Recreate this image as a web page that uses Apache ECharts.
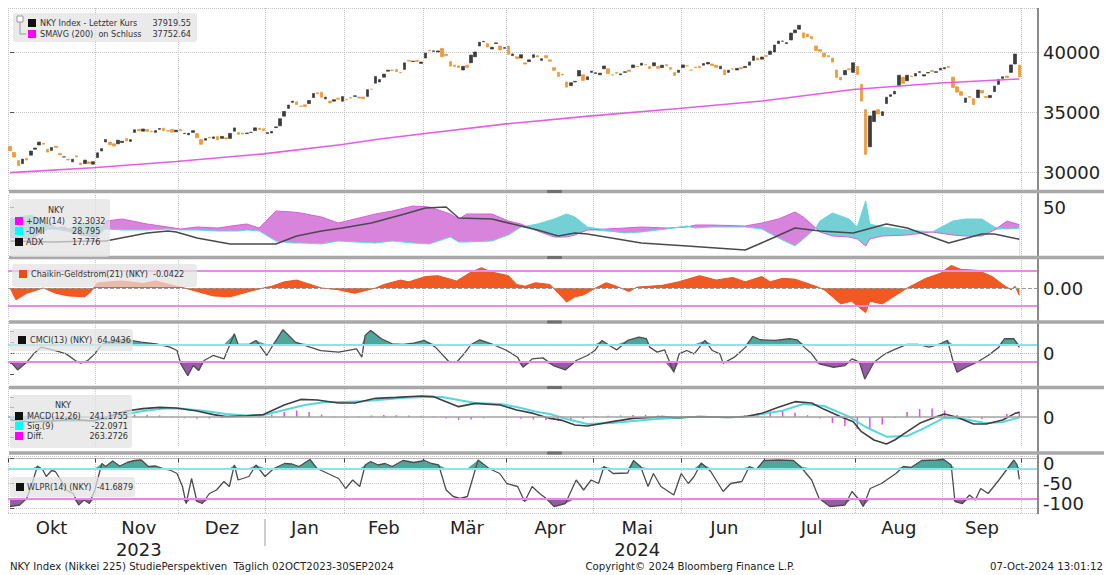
<!DOCTYPE html>
<html>
<head>
<meta charset="utf-8">
<title>NKY Index - StudiePerspektiven</title>
<script src="https://cdn.jsdelivr.net/npm/echarts@6.0.0/dist/echarts.min.js"></script>
<style>
html, body { margin: 0; padding: 0; background: #fff; }
#chart { width: 1112px; height: 575px; }
</style>
</head>
<body>
<div id="chart"></div>
<script>
// Handelstage je Monat (02.10.2023 - 30.09.2024)
const monthNames = ['Okt', 'Nov', 'Dez', 'Jan', 'Feb', 'Mär', 'Apr', 'Mai', 'Jun', 'Jul', 'Aug', 'Sep'];
const tradingDays = [21, 20, 21, 19, 19, 20, 21, 21, 20, 22, 21, 19];
const yearOf = { Nov: '2023', Mai: '2024' };
const padDays = 4;

// Kerzen: Eröffnung / Schluss je Handelstag
const openPx = [
  32140,31630,30950,30700,31150,31400,31900,32250,32400,31900,31800,32150,31550,31250,31050,30850,31350,30750,30700,30850,30650,
  31200,31750,32500,32500,32350,32350,32450,32800,32550,33300,33550,33400,33550,33400,33300,33550,33650,33450,33550,33350,
  33550,33200,33100,33300,33200,32700,32650,32900,32800,32950,32800,32850,32800,33400,33300,33250,33200,33300,33450,33650,33600,
  33200,33250,33700,33850,34650,35300,35800,35850,35500,35600,35700,36200,36600,36650,36100,35900,35900,36150,35900,
  36050,36200,36300,36250,36250,36300,36900,37400,37500,37900,38400,38500,38550,38300,38550,39300,39200,39300,39050,
  39500,40150,40050,40000,40300,39800,39200,38900,38850,38500,38900,39100,39600,40500,40850,40700,40250,40700,40500,40300,
  40500,39700,39600,39500,39100,39200,39550,39700,39300,39700,39350,38700,38300,38150,37500,37200,37500,38000,38100,37700,38300,
  38200,38100,38600,38600,38100,38300,38100,38300,38500,38700,38800,38900,38950,38800,38850,38800,38700,38950,38700,38300,38300,
  38700,38850,38500,38750,38800,38900,39000,39000,38900,38600,38500,38300,38600,38500,38700,38700,38900,39300,39500,39400,
  39700,39800,40000,40700,40900,40700,41000,41600,41900,41600,41500,41300,40500,40200,39900,39700,39500,38500,37900,38100,38600,38300,
  38800,37300,35200,32100,34200,35200,34700,35700,36300,36500,37200,37900,37600,38000,38000,38300,38000,38250,38450,38300,38500,
  38600,38800,37900,37100,36700,35800,36300,36100,36200,36800,36300,36200,36700,37300,37800,38000,38300,39000,38900
];
const closePx = [
  31759,31237,30526,31075,30994,31746,32003,32494,32315,31659,32040,32042,31430,31259,30999,31062,31269,30601,30991,30697,30859,
  31601,31950,32708,32272,32166,32646,32568,32586,32696,33519,33424,33585,33389,33354,33452,33625,33447,33408,33321,33486,
  33431,33231,33231,33445,32858,32307,32791,32843,32926,32686,32970,32758,33219,33675,33140,33169,33254,33305,33681,33540,33464,
  33288,33377,33763,34441,35049,35577,35901,35619,35477,35466,35963,36546,36517,36226,36236,35751,36026,36065,36286,
  36011,36158,36354,36160,36119,36863,36897,37963,37703,38157,38487,38470,38363,38262,39098,39233,39239,39208,39166,
  39910,40109,40097,40090,39598,39688,38820,38797,38695,38807,38707,39740,40003,40815,40888,40414,40398,40762,40168,40369,
  39803,39838,39451,39773,38992,39347,39773,39581,39442,39523,39232,38471,37961,38079,37068,37438,37552,38460,37628,37934,38405,
  38274,38236,38835,38202,38073,38229,38179,38356,38385,38920,38787,39069,38946,38617,39103,38646,38900,38855,38556,38054,38487,
  38923,38837,38490,38703,38683,39038,39134,38876,38720,38814,38102,38482,38570,38633,38596,38804,39173,39667,39341,39583,
  39631,40074,40580,40913,40912,40780,41580,41831,42224,41190,41275,41097,40126,40063,39599,39594,39154,37869,37667,38468,38526,39101,
  38126,35909,31458,34675,35089,34831,35025,36232,36442,36726,38062,37388,38063,37951,38211,38364,38110,38288,38371,38362,38647,
  38700,38686,37047,36657,36391,36159,36215,35619,36833,36581,36203,36380,37155,37723,37940,37870,38925,39830,37919.55
];

// SMAVG(200): [Handelstag, Wert]
const smaPts = [[0,29950],[20,30360],[40,30880],[61,31510],[80,32290],[89,32750],[99,33170],[119,33990],
  [140,34680],[161,35290],[181,35920],[203,36870],[224,37420],[243,37752.64]];

// DMI
const dmiDay = [0,5,9,13,17,21,23,27,33,38,41,45,50,55,57,60,64,68,70,75,79,83,88,92,97,101,106,108,110,116,
  120,123,127,131,134,136,139,148,152,158,163,165,169,177,181,185,189,191,194,195,198,202,204,206,207,210,216,222,227,230,234,237,240,243];
const dmiPlus = [20,18,28,30,22,20,36,38,33,30,28,30,29,32,33,29,46,45,44,40,34,38,43,46,51,50,43,38,43,43,
  36,33,26,20,20,22,27,29,30,29,30,32,32,31,34,38,45,40,29,25,21,20,18,11,18,21,22,25,22,21,21,27,36,32.3];
const dmiMinus = [38,42,34,26,33,34,28,27,27,28,27,27,26,26,27,26,16,14,14,13,16,15,14,16,14,13,20,15,15,16,
  22,30,33,38,43,40,30,24,25,28,31,29,30,30,28,19,11,18,29,36,44,38,30,56,33,30,27,25,36,38,38,30,28,28.8];
const adxPts = [[0,16],[10,15],[20,16],[23,16],[33,24],[38,26],[40,25],[45,19],[53,13],[57,13],[64,13],[69,21],
  [75,26],[80,29],[87,34],[95,43],[100,49],[105,50],[108,39],[116,38],[121,33],[127,27],[132,21],[136,24],[139,23],
  [152,14],[163,11],[177,7],[182,16],[189,29],[195,26],[203,24],[211,33],[216,29],[226,14],[234,23],[237,23],[243,17.776]];

// Chaikin-Geldstrom(21)
const chaikinPts = [[0,0],[1.4,-0.067],[4,-0.03],[8,0],[11,-0.03],[14,-0.045],[18,-0.05],[19.5,-0.02],[21,0.028],
  [23,0.033],[27,0.04],[32,0.025],[35,0.04],[40,0.01],[42,0],[45,-0.02],[49,-0.045],[53,-0.05],[57.5,-0.02],[61,0],
  [63,0.01],[66,0.035],[69,0.045],[71,0.03],[75,0],[79,-0.01],[83,-0.03],[88,0],[90,0.02],[94,0.045],[96,0.035],
  [100,0.065],[103,0.07],[107.5,0.04],[111,0.09],[113.5,0.115],[116,0.09],[120,0.07],[122,0.02],[124,0.01],
  [126.5,0.03],[130,0.02],[132,-0.03],[134,-0.08],[136,-0.05],[138,-0.04],[141,0],[143.5,0.03],[146,0.01],
  [149,-0.02],[151,0.005],[157,0.015],[161,0.035],[166,0.07],[170,0.045],[174,0.06],[177,0.035],[181,0.065],
  [183,0.035],[186,0.055],[189,0.05],[194,0.01],[196,-0.01],[198,-0.05],[200,-0.09],[202.6,-0.075],[206,-0.14],
  [207,-0.075],[210,-0.09],[214,-0.03],[216,0],[220.5,0.055],[224,0.083],[226.6,0.128],[229,0.105],[233,0.1],
  [236.5,0.065],[239,0.02],[241,-0.01],[242,0.01],[243,-0.0422]];

// CMCI(13)
const cmciPts = [[0,-96],[1.8,-198],[4,-108],[5.7,-10],[7.5,69],[9.2,49],[10.9,29],[13.5,-10],[15.7,-88],[17,-120],
  [18.7,-88],[20.4,-10],[22.1,100],[24.7,147],[28.2,155],[31.6,127],[35.1,108],[38.5,69],[40.2,29],[41.1,-127],
  [42.8,-265],[44.1,-147],[45.4,-206],[46.7,-88],[48.9,-29],[51.5,-69],[54,225],[54.9,100],[57.5,100],[59.2,147],
  [61.8,-29],[63.5,108],[65.7,273],[68.7,127],[72.2,69],[74.8,29],[79.1,10],[83.4,49],[84.7,-49],[85.5,206],
  [86.8,265],[89.4,167],[92,108],[94.6,100],[97.2,116],[99.8,147],[102.4,69],[105.8,-108],[107.5,-108],[109.3,-10],
  [111,100],[113.1,155],[116.2,100],[119.6,29],[122.2,-49],[123.5,-167],[125.7,-69],[128.3,-57],[130.8,-147],
  [133.7,-198],[136.3,-88],[139,-29],[140.8,29],[142.5,147],[144.3,88],[146.1,37],[148.7,147],[151.4,186],
  [153.2,167],[154,69],[155.8,10],[157.6,37],[159.8,-225],[161.1,-10],[162.9,29],[164.7,-10],[167.3,147],
  [169.1,29],[170.9,-10],[171.7,-120],[174.4,-49],[177.1,69],[178.8,194],[180.6,155],[184.1,147],[187.7,167],
  [189.5,155],[191.2,69],[193,-10],[194.8,-127],[198.3,-167],[201,-147],[202.7,-69],[204.5,-108],[205.8,-304],
  [208,-108],[210.7,-10],[213.3,49],[216,100],[218.6,100],[221.3,69],[224,108],[225.7,147],[227,-88],[228,-225],
  [230.2,-167],[232.8,-108],[235.5,-29],[238.1,69],[239.4,167],[241.7,167],[243,64.94]];

// MACD(12,26), Signal(9), Diff.
const macdPts = [[0,-150],[5,-250],[10,-200],[15,-120],[20,-200],[24,50],[28,300],[32,420],[36,480],[40,450],
  [45,300],[49,120],[52,17],[57,60],[61,120],[66,600],[70,880],[74,850],[79,700],[83,700],[88,933],[93,983],
  [99,1050],[102,1017],[105,767],[108,517],[112,680],[118,600],[122,350],[126,180],[130,-70],[133,-170],[136,-400],
  [139,-450],[145,-233],[150,-67],[157,17],[161,-33],[166,17],[173,-17],[177,17],[181,183],[185,483],[189,767],
  [193,700],[196,383],[200,17],[203,-233],[205,-733],[208,-1150],[211,-1350],[213,-1150],[216,-733],[219,-317],
  [223,17],[225,150],[228,-17],[232,-350],[235,-350],[239,-150],[242,183],[243,241]];
const sigPts = [[0,-50],[5,-120],[10,-180],[15,-190],[20,-180],[24,-100],[28,150],[32,300],[37,420],[41,430],
  [47,300],[52,150],[57,80],[61,100],[66,350],[71,600],[76,750],[80,750],[85,790],[90,880],[95,960],[100,1000],
  [104,1000],[108,850],[112,700],[118,650],[122,500],[127,250],[130,150],[134,-100],[139,-350],[145,-300],
  [154,-120],[163,0],[177,17],[181,150],[186,317],[191,650],[196,550],[202,17],[206,-500],[211,-983],[216,-950],
  [220,-567],[225,-33],[229,-70],[235,-317],[239,-250],[243,-22]];
const diffDay = [0,3,6,9,12,15,18,21,24,27,30,33,36,39,42,45,48,51,54,57,60,63,66,69,72,75,78,81,84,87,90,93,96,99,
  102,105,108,111,114,117,120,123,126,129,132,135,138,141,144,147,150,153,156,159,162,165,168,171,174,177,180,183,
  186,189,192,195,198,201,204,207,210,213,216,219,222,225,228,231,234,237,240,243];
const diffVal = [-60,-80,-50,30,60,40,-20,-40,40,90,120,110,80,20,-60,-90,-80,-60,-20,20,40,120,250,330,250,120,30,-30,
  20,80,100,90,70,60,30,-80,-140,-120,-60,-20,-40,-90,-120,-160,-200,-170,-90,30,60,80,100,110,80,20,10,0,-20,-10,20,
  90,200,290,300,230,90,-80,-300,-450,-600,-650,-380,-50,250,400,420,330,100,-60,-100,-40,150,263];

// WLPR(14)
const wlprPts = [[0,-96],[2.3,-93],[4,-80],[5.3,-50],[6.6,-15],[7.9,-23],[8.7,-36],[10,-24],[10.9,-26],[12.2,-43],
  [13.5,-63],[15.2,-70],[16.5,-93],[17.8,-83],[19.1,-90],[20.4,-63],[22.1,-10],[23,-16],[24.7,-5],[26.4,-15],
  [28.2,-8],[29.9,-4],[31.6,-3],[33.3,-16],[35.1,-15],[36.8,-20],[38.5,-23],[40.2,-30],[41.5,-56],[42.4,-90],
  [43.7,-40],[45,-86],[46.3,-90],[48,-70],[49.7,-63],[51.5,-46],[52.8,-56],[54,-13],[54.9,-43],[57.5,-36],
  [59.2,-13],[61.4,-36],[63.5,-20],[66.1,-10],[67.9,-11],[69.6,-16],[72.2,-2],[73.9,-20],[76.5,-30],[79.1,-40],
  [80.8,-60],[82.5,-43],[84.2,-56],[85.5,-13],[86.8,-6],[88.6,-13],[90.3,-10],[92,-16],[94.6,-4],[97.2,-8],
  [99.8,-4],[101.5,-10],[103.2,-13],[105,-63],[106.7,-76],[108.4,-80],[110.1,-76],[112.7,-3],[115.3,-20],
  [117.9,-30],[119.6,-50],[122.2,-56],[123.9,-86],[125.7,-56],[127.5,-70],[129.1,-80],[131,-96],[133.7,-90],
  [136.3,-43],[138.1,-63],[139.9,-43],[141.7,-50],[143,-16],[145.2,-30],[148.7,-29],[150.1,-4],[151.8,-16],
  [153.6,-56],[154.9,-30],[156.7,-56],[159.8,-73],[161.6,-30],[163.3,-50],[164.7,-36],[166.4,-9],[168.7,-26],
  [171.7,-66],[173.5,-50],[176.2,-46],[178,-16],[179.7,-22],[181.5,-4],[185,-3],[188.6,-4],[190.3,-16],[193,-43],
  [194.8,-80],[197.4,-96],[201,-93],[202.7,-66],[204.5,-83],[205.4,-96],[207.1,-60],[209.8,-50],[213.3,-30],
  [215.1,-16],[216.9,-18],[219.5,-4],[223.1,-3],[224.8,-2],[226.6,-13],[227.5,-86],[229.3,-90],[231,-73],
  [232.4,-83],[233.7,-60],[235.5,-70],[238.1,-43],[239.9,-23],[241.7,-3],[242.5,-13],[243,-41.69]];

// ---------- Aufbau ----------
const FONT = '"DejaVu Sans", sans-serif';
const SMALL = '"DejaVu Sans Condensed", "DejaVu Sans", sans-serif';

const categories = [];
const monthStart = new Set();
const monthMid = new Set();
let k = 0;
monthNames.forEach((m, i) => {
  monthStart.add(k);
  monthMid.add(k + Math.floor(tradingDays[i] / 2));
  for (let d = 0; d < tradingDays[i]; d++) categories.push(m);
  k += tradingDays[i];
});
monthStart.add(k);
for (let p = 0; p < padDays; p++) categories.push('');

const pairs = (xs, ys) => xs.map((x, i) => [x, ys[i]]);
const above = (pts, lvl) => pts.map(([d, v]) => [d, Math.max(v, lvl)]);
const below = (pts, lvl) => pts.map(([d, v]) => [d, Math.min(v, lvl)]);

const candles = openPx.map((o, i) => {
  const c = closePx[i];
  return [i, o, c, Math.min(o, c), Math.max(o, c)];
});
// Füllung zwischen +DMI und -DMI: rosa unter +DMI, türkis unter -DMI, darunter weiß bis min(+DMI,-DMI)
const dmiLow = dmiPlus.map((p, i) => Math.min(p, dmiMinus[i]));

// Panels: top / height
const panels = [
  { top: 8, height: 182 },
  { top: 195, height: 62 },
  { top: 258, height: 60 },
  { top: 321, height: 64 },
  { top: 387, height: 60 },
  { top: 456, height: 57.5 }
];

function catAxis(i) {
  const last = i === panels.length - 1;
  return {
    type: 'category', gridIndex: i, data: categories, boundaryGap: true,
    axisLine: { show: last, lineStyle: { color: '#b8b8b8', width: 1 } },
    axisTick: { show: last, interval: idx => monthStart.has(idx), length: 4, lineStyle: { color: '#444' } },
    axisLabel: {
      show: last, interval: idx => monthMid.has(idx),
      formatter: v => (yearOf[v] ? v + '\n' + yearOf[v] : v),
      color: '#222', fontSize: 18, fontFamily: FONT, margin: 3, lineHeight: 22
    },
    splitLine: { show: true, interval: idx => monthStart.has(idx), lineStyle: { color: '#c4c4c4', type: 'dotted', width: 1 } }
  };
}
function valAxis(i) {
  return { type: 'value', gridIndex: i, min: -0.5, max: categories.length - 0.5, show: false };
}
function yAx(i, range, fmt, split, rich) {
  return Object.assign({
    type: 'value', gridIndex: i, position: 'right',
    axisLine: { show: false },
    axisTick: { show: true, length: 4, lineStyle: { color: '#555', width: 1 } },
    axisLabel: {
      formatter: fmt, margin: 5, color: '#222', fontSize: 18, fontFamily: FONT,
      showMinLabel: false, showMaxLabel: false, rich: rich || {}
    },
    splitLine: { show: !!split, lineStyle: { color: '#c4c4c4', type: 'dotted', width: 1 } }
  }, range);
}

const richW = {
  t: { padding: [10, 0, 0, 0], fontSize: 18, fontFamily: FONT, color: '#222' },
  b: { padding: [0, 0, 10, 0], fontSize: 18, fontFamily: FONT, color: '#222' }
};

const yAxes = [
  yAx(0, { min: 28500, max: 43667, splitNumber: 3 }, v => (v % 5000 === 0 ? String(v) : ''), true),
  yAx(1, { min: 0, max: 62, interval: 25 }, v => (v === 50 ? '50' : '')),
  yAx(2, { min: -0.17, max: 0.17, interval: 0.17 }, v => (Math.abs(v) < 1e-9 ? '0.00' : '')),
  yAx(3, { min: -375, max: 375, interval: 125 }, v => (v === 0 ? '0' : '')),
  yAx(4, { min: -1500, max: 1500, interval: 500 }, v => (v === 0 ? '0' : '')),
  yAx(5, { min: -110, max: 5, splitNumber: 2 },
    v => (v === 0 ? '{t|0}' : v === -50 ? '-50' : v === -100 ? '{b|-100}' : ''), true, richW)
];

const noSym = { symbol: 'none', silent: true };
const band = (y, color, type, width) => ({ yAxis: y, lineStyle: { color: color, type: type || 'solid', width: width || 2 } });
const bands = list => ({ silent: true, symbol: 'none', label: { show: false }, data: list });

const series = [
  // Kurs
  { type: 'candlestick', xAxisIndex: 6, yAxisIndex: 0, data: candles, barWidth: 3,
    itemStyle: { color: '#3c3c3c', color0: '#f39a32', borderColor: '#2b2b2b', borderColor0: '#ea8c22', borderWidth: 0.6 } },
  Object.assign({ type: 'line', xAxisIndex: 6, yAxisIndex: 0, data: smaPts,
    lineStyle: { color: '#e35ee6', width: 1.6 } }, noSym),

  // DMI Flächen
  Object.assign({ type: 'line', xAxisIndex: 7, yAxisIndex: 1, data: pairs(dmiDay, dmiPlus),
    lineStyle: { opacity: 0 }, areaStyle: { color: '#d884dc', opacity: 1, origin: 0 } }, noSym),
  Object.assign({ type: 'line', xAxisIndex: 7, yAxisIndex: 1, data: pairs(dmiDay, dmiMinus),
    lineStyle: { opacity: 0 }, areaStyle: { color: '#74d0d4', opacity: 1, origin: 0 } }, noSym),
  Object.assign({ type: 'line', xAxisIndex: 7, yAxisIndex: 1, data: pairs(dmiDay, dmiLow),
    lineStyle: { opacity: 0 }, areaStyle: { color: '#ffffff', opacity: 1, origin: 0 } }, noSym),
  Object.assign({ type: 'line', xAxisIndex: 7, yAxisIndex: 1, data: pairs(dmiDay, dmiPlus),
    lineStyle: { color: '#d95fdc', width: 1 } }, noSym),
  Object.assign({ type: 'line', xAxisIndex: 7, yAxisIndex: 1, data: pairs(dmiDay, dmiMinus),
    lineStyle: { color: '#5fd8e2', width: 1 } }, noSym),
  Object.assign({ type: 'line', xAxisIndex: 7, yAxisIndex: 1, data: adxPts,
    lineStyle: { color: '#4a4a4a', width: 1.5 } }, noSym),

  // Chaikin
  Object.assign({ type: 'line', xAxisIndex: 8, yAxisIndex: 2, data: chaikinPts,
    lineStyle: { color: '#ee5420', width: 1 }, areaStyle: { color: '#f05a22', opacity: 1 },
    markLine: bands([band(0.1, '#e98be9'), band(-0.1, '#e98be9'), band(0, '#999', 'dashed', 1)]) }, noSym),

  // CMCI
  Object.assign({ type: 'line', xAxisIndex: 9, yAxisIndex: 3, data: above(cmciPts, 100),
    lineStyle: { opacity: 0 }, areaStyle: { color: '#4fa79c', opacity: 1, origin: 100 },
    markLine: bands([band(100, '#86e6ee'), band(-100, '#e887e8'), band(0, '#bdbdbd', 'dotted', 1)]) }, noSym),
  Object.assign({ type: 'line', xAxisIndex: 9, yAxisIndex: 3, data: below(cmciPts, -100),
    lineStyle: { opacity: 0 }, areaStyle: { color: '#9a5aa8', opacity: 1, origin: -100 } }, noSym),
  Object.assign({ type: 'line', xAxisIndex: 9, yAxisIndex: 3, data: cmciPts,
    lineStyle: { color: '#4d4d4d', width: 1.3 } }, noSym),

  // MACD
  { type: 'bar', xAxisIndex: 10, yAxisIndex: 4, data: pairs(diffDay, diffVal), barWidth: 1.5, silent: true,
    itemStyle: { color: '#e24fe4' },
    markLine: bands([band(0, '#a3a3a3', 'solid', 1.5)]) },
  Object.assign({ type: 'line', xAxisIndex: 10, yAxisIndex: 4, data: sigPts,
    lineStyle: { color: '#57d6e0', width: 2 } }, noSym),
  Object.assign({ type: 'line', xAxisIndex: 10, yAxisIndex: 4, data: macdPts,
    lineStyle: { color: '#3f3f3f', width: 1.6 } }, noSym),

  // WLPR
  Object.assign({ type: 'line', xAxisIndex: 11, yAxisIndex: 5, data: above(wlprPts, -20),
    lineStyle: { opacity: 0 }, areaStyle: { color: '#4fa79c', opacity: 1, origin: -20 },
    markLine: bands([band(-20, '#86e6ee'), band(-80, '#e887e8')]) }, noSym),
  Object.assign({ type: 'line', xAxisIndex: 11, yAxisIndex: 5, data: below(wlprPts, -80),
    lineStyle: { opacity: 0 }, areaStyle: { color: '#9a5aa8', opacity: 1, origin: -80 } }, noSym),
  Object.assign({ type: 'line', xAxisIndex: 11, yAxisIndex: 5, data: wlprPts,
    lineStyle: { color: '#4d4d4d', width: 1.3 } }, noSym)
];

// ---------- Legenden, Trennlinien, Fußzeile ----------
const LEG_BG = 'rgba(226,226,226,0.72)';
const box = (x, y, w, h) => ({ type: 'rect', z: 100, shape: { x: x, y: y, width: w, height: h, r: 3 }, style: { fill: LEG_BG } });
const sq = (x, y, c) => ({ type: 'rect', z: 101, shape: { x: x, y: y, width: 8, height: 8 }, style: { fill: c } });
const txt = (x, y, s, extra) => ({
  type: 'text', z: 101,
  style: Object.assign({ x: x, y: y, text: s, fill: '#333', fontSize: 9, fontFamily: SMALL, align: 'left', verticalAlign: 'middle' }, extra || {})
});
const R = { align: 'right' };
const C = { align: 'center' };
const FOOT = { fontSize: 11.3, fill: '#222' };

const separators = [191.5, 257.5, 322, 387.5, 453];
const graphic = [
  { type: 'line', z: 90, shape: { x1: 1038, y1: 8, x2: 1038, y2: 514 }, style: { stroke: '#8a8a8a', lineWidth: 2 } },
  { type: 'line', z: 90, shape: { x1: 265, y1: 519, x2: 265, y2: 546 }, style: { stroke: '#9a9a9a', lineWidth: 1 } }
];
separators.forEach(y => {
  graphic.push({ type: 'line', z: 95, shape: { x1: 9, y1: y, x2: 1104, y2: y }, style: { stroke: '#a8a8a8', lineWidth: 3.5 } });
  graphic.push({ type: 'rect', z: 96, shape: { x: 547, y: y - 1.5, width: 15, height: 3, r: 1 }, style: { fill: '#707070' } });
});

graphic.push(
  // Kurs
  box(13, 13, 184, 29),
  { type: 'rect', z: 101, shape: { x: 17, y: 16, width: 6, height: 6 }, style: { fill: '#fff', stroke: '#999', lineWidth: 1 } },
  { type: 'polyline', z: 101, shape: { points: [[20, 22], [20, 34], [26, 34]] }, style: { stroke: '#999', lineWidth: 1, fill: null } },
  sq(28, 19, '#111'), txt(40, 23, 'NKY Index - Letzter Kurs'), txt(191, 23, '37919.55', R),
  sq(28, 30, '#ff00ff'), txt(40, 34, 'SMAVG (200)  on Schluss'), txt(191, 34, '37752.64', R),
  // DMI
  box(10, 199, 100, 58),
  txt(56, 210, 'NKY', C),
  sq(15, 217, '#ff00ff'), txt(26, 221, '+DMI(14)'), txt(72, 221, '32.3032'),
  sq(15, 227, '#00ffff'), txt(26, 231, '-DMI'), txt(72, 231, '28.795'),
  sq(15, 238, '#111'), txt(26, 242, 'ADX'), txt(72, 242, '17.776'),
  // Chaikin
  box(12, 264, 185, 23),
  sq(19, 270, '#f04a14'), txt(31, 274, 'Chaikin-Geldstrom(21) (NKY)  -0.0422'),
  // CMCI
  box(10, 329, 123, 22),
  sq(18, 336, '#111'), txt(30, 340, 'CMCI(13) (NKY)  64.9436'),
  // MACD
  box(10, 395, 122, 53),
  txt(63, 405, 'NKY', C),
  sq(15, 412, '#111'), txt(27, 416, 'MACD(12,26)'), txt(128, 416, '241.1755', R),
  sq(15, 422, '#00ffff'), txt(27, 426, 'Sig.(9)'), txt(128, 426, '-22.0971', R),
  sq(15, 432, '#ff00ff'), txt(27, 436, 'Diff.'), txt(128, 436, '263.2726', R),
  // WLPR
  box(10, 477, 125, 20),
  sq(16, 483, '#111'), txt(27, 487, 'WLPR(14) (NKY)  -41.6879'),
  // Fußzeile
  txt(10, 566, 'NKY Index (Nikkei 225) StudiePerspektiven  Täglich 02OCT2023-30SEP2024', FOOT),
  txt(690, 566, 'Copyright© 2024 Bloomberg Finance L.P.', Object.assign({ align: 'center' }, FOOT)),
  txt(990, 566, '07-Oct-2024 13:01:12', FOOT)
);

const chart = echarts.init(document.getElementById('chart'), null, { renderer: 'svg' });
chart.setOption({
  animation: false,
  backgroundColor: '#fff',
  grid: panels.map(p => ({ left: 8, right: 74, top: p.top, height: p.height })),
  xAxis: panels.map((p, i) => catAxis(i)).concat(panels.map((p, i) => valAxis(i))),
  yAxis: yAxes,
  series: series,
  graphic: graphic
});
</script>
</body>
</html>
